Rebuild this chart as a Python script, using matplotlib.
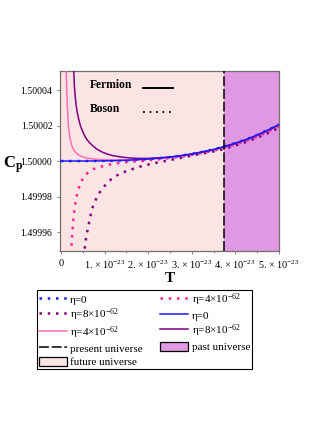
import matplotlib
matplotlib.use("Agg")
import matplotlib.pyplot as plt
from matplotlib.lines import Line2D
from matplotlib.patches import Patch, Rectangle
from matplotlib.legend_handler import HandlerPatch
from matplotlib.ticker import FixedLocator, MultipleLocator
import numpy as np

plt.rcParams['font.family'] = ['Liberation Serif', 'DejaVu Serif']
plt.rcParams['mathtext.fontset'] = 'custom'
plt.rcParams['mathtext.rm'] = 'Liberation Serif'
plt.rcParams['mathtext.it'] = 'Liberation Serif:italic'
plt.rcParams['mathtext.bf'] = 'Liberation Serif:bold'

# ---- data: T in units of 1e-23, Cp given as (Cp - 1.5) in units of 1e-5 ----
T_SCALE = 1e-23
CP_BASE = 1.5
CP_SCALE = 1e-5

# Fermion, eta = 0
T_f0 = [0, 0.25, 0.5, 0.75, 1.0, 1.25, 1.5, 1.75, 2.0, 2.25, 2.5, 2.75, 3.0,
        3.25, 3.5, 3.75, 4.0, 4.25, 4.5, 4.75, 5.0]
dCp_f0 = [0, 0.0, 0.002, 0.005, 0.011, 0.024, 0.045, 0.075, 0.11, 0.16, 0.22,
          0.30, 0.40, 0.52, 0.655, 0.82, 1.01, 1.22, 1.47, 1.75, 2.06]

# Boson, eta = 0
T_b0 = list(T_f0)
dCp_b0 = list(dCp_f0)

# Fermion, eta = 4e-62
T_f4 = [0.115, 0.122, 0.133, 0.144, 0.16, 0.177, 0.20, 0.222, 0.26, 0.314, 0.38,
        0.466, 0.58, 0.695, 0.85, 1.0, 1.25, 1.5, 1.75, 2.0, 2.25, 2.5, 2.75,
        3.0, 3.25, 3.5, 3.75, 4.0, 4.25, 4.5, 4.75, 5.0]
dCp_f4 = [6.0, 5.24, 4.2, 3.36, 2.5, 1.86, 1.42, 1.11, 0.80, 0.55, 0.39,
          0.26, 0.18, 0.13, 0.09, 0.07, 0.06, 0.07, 0.09, 0.12, 0.16, 0.21, 0.29,
          0.39, 0.51, 0.64, 0.80, 0.99, 1.20, 1.45, 1.73, 2.04]

# Fermion, eta = 8e-62
T_f8 = [0.285, 0.291, 0.31, 0.33, 0.35, 0.375, 0.40, 0.44, 0.48, 0.53, 0.58,
        0.64, 0.70, 0.82, 0.95, 1.08, 1.2, 1.4, 1.6, 1.8, 2.0, 2.25, 2.5, 2.75,
        3.0, 3.25, 3.5, 3.75, 4.0, 4.25, 4.5, 4.75, 5.0]
dCp_f8 = [6.0, 5.3, 4.2, 3.6, 3.15, 2.75, 2.45, 2.05, 1.78, 1.5, 1.27,
          1.08, 0.93, 0.68, 0.50, 0.38, 0.30, 0.22, 0.17, 0.15, 0.15, 0.18, 0.23, 0.30,
          0.39, 0.51, 0.64, 0.80, 0.99, 1.20, 1.45, 1.73, 2.04]

# Boson, eta = 4e-62
T_b4 = [0.225, 0.236, 0.246, 0.257, 0.270, 0.285, 0.303, 0.33, 0.362, 0.405,
        0.466, 0.573, 0.727, 0.911, 1.078, 1.268, 1.461, 1.65, 1.85, 2.0, 2.25,
        2.5, 2.75, 3.0, 3.25, 3.5, 3.75, 4.0, 4.25, 4.5, 4.75, 5.0]
dCp_b4 = [-5.7, -5.16, -4.7, -4.26, -3.8, -3.32, -2.87, -2.42, -1.97, -1.56,
          -1.14, -0.75, -0.47, -0.32, -0.21, -0.13, -0.07, -0.03, 0.0, 0.04, 0.10,
          0.17, 0.25, 0.35, 0.46, 0.59, 0.75, 0.93, 1.14, 1.38, 1.66, 1.97]

# Boson, eta = 8e-62
T_b8 = [0.53, 0.544, 0.567, 0.596, 0.635, 0.672, 0.711, 0.773, 0.849, 0.963,
        1.078, 1.232, 1.399, 1.576, 1.750, 1.927, 2.117, 2.310, 2.50, 2.69, 2.88,
        3.07, 3.26, 3.46, 3.65, 3.85, 4.0, 4.25, 4.5, 4.75, 5.0]
dCp_b8 = [-5.4, -4.97, -4.51, -4.07, -3.61, -3.17, -2.72, -2.33, -1.90, -1.52,
          -1.18, -0.88, -0.66, -0.51, -0.355, -0.24, -0.13, -0.04, 0.056, 0.15, 0.24,
          0.34, 0.43, 0.52, 0.62, 0.76, 0.88, 1.08, 1.32, 1.58, 1.88]

present_T = 3.75   # present universe boundary (units of 1e-23)
T_max = 5.0

x_ticks = [0, 1, 2, 3, 4, 5]
x_tick_labels = ['0'] + [f'{k}. × 10$^{{-23}}$' for k in range(1, 6)]
y_ticks_d = [-4, -2, 0, 2, 4]
y_tick_labels = ['1.49996', '1.49998', '1.50000', '1.50002', '1.50004']

# ---- colours / styles ----
C_BLUE = '#1a1aff'
C_PINK_S = '#ff6eb4'
C_PINK_D = '#ff1f8f'
C_PURPLE = '#800080'
C_FUTURE = '#fbe4e4'
C_PAST = '#e198e3'
DOT = (0, (1.0, 2.3))
DASH = (0, (6.5, 1.8))


def tx(t):
    return np.asarray(t) * T_SCALE


def cy(d):
    return CP_BASE + np.asarray(d) * CP_SCALE


fig = plt.figure(figsize=(3.24, 4.40), dpi=100)
fig.patch.set_facecolor('white')
ax = fig.add_axes([0.1852, 0.4295, 0.6759, 0.4098])
ax.set_facecolor(C_FUTURE)

ax.axvspan(present_T * T_SCALE, T_max * T_SCALE, color=C_PAST, lw=0, zorder=0)
ax.axvline(present_T * T_SCALE, color='black', lw=1.1, linestyle=DASH, zorder=5)

dot_kw = dict(lw=1.8, linestyle=DOT, dash_capstyle='butt', zorder=3)
ax.plot(tx(T_b8), cy(dCp_b8), color=C_PURPLE, **dot_kw)
ax.plot(tx(T_b4), cy(dCp_b4), color=C_PINK_D, **dot_kw)
ax.plot(tx(T_b0), cy(dCp_b0), color=C_BLUE, **dot_kw)

sol_kw = dict(lw=1.1, linestyle='-', zorder=4)
ax.plot(tx(T_f4), cy(dCp_f4), color=C_PINK_S, **sol_kw)
ax.plot(tx(T_f8), cy(dCp_f8), color=C_PURPLE, **sol_kw)
ax.plot(tx(T_f0), cy(dCp_f0), color=C_BLUE, **sol_kw)

ax.set_xlim(-0.02 * T_SCALE, T_max * T_SCALE)
ax.set_ylim(cy(-5.07), cy(5.09))

ax.xaxis.set_major_locator(FixedLocator(tx(x_ticks)))
ax.set_xticklabels(x_tick_labels, fontsize=7.4)
ax.xaxis.set_minor_locator(MultipleLocator(0.5 * T_SCALE))
ax.yaxis.set_major_locator(FixedLocator(cy(y_ticks_d)))
ax.set_yticklabels(y_tick_labels, fontsize=7)

for sp in ax.spines.values():
    sp.set_color('#707070')
    sp.set_linewidth(0.9)
ax.tick_params(axis='both', which='both', direction='out', color='#707070',
               width=0.6)
ax.tick_params(axis='x', which='major', length=2.5, pad=3)
ax.tick_params(axis='x', which='minor', length=1.5)
ax.tick_params(axis='y', which='major', length=2.5, pad=3)

ax.set_xlabel('T', fontsize=11, fontweight='bold', labelpad=1)
fig.text(0.040, 0.625, r'$\mathbf{C}_{\mathbf{p}}$', fontsize=12, ha='center', va='center')

# Fermion / Boson key inside axes
ax.text(0.134, 0.921, 'Fermion', transform=ax.transAxes, fontsize=8.3,
        fontweight='bold', va='center', ha='left')
ax.plot([0.378, 0.515], [0.904, 0.904], transform=ax.transAxes, color='black',
        lw=1.4, zorder=6)
ax.text(0.134, 0.789, 'Boson', transform=ax.transAxes, fontsize=8.3,
        fontweight='bold', va='center', ha='left')
ax.plot([0.378, 0.515], [0.771, 0.771], transform=ax.transAxes, color='black',
        lw=1.3, linestyle=(0, (1, 2.6)), zorder=6)


# ---- legend ----
def small_rect(legend, orig_handle, xdescent, ydescent, width, height, fontsize):
    h = height * 0.72
    return Rectangle((-xdescent, -ydescent + (height - h) / 2), width, h)


handles = [
    Line2D([], [], color=C_BLUE, lw=1.8, linestyle=DOT, dash_capstyle='butt'),
    Line2D([], [], color=C_PURPLE, lw=1.8, linestyle=DOT, dash_capstyle='butt'),
    Line2D([], [], color=C_PINK_S, lw=1.1),
    Line2D([], [], color='black', lw=1.1, linestyle=DASH),
    Patch(facecolor=C_FUTURE, edgecolor='black', lw=0.9),
    Line2D([], [], color=C_PINK_D, lw=1.8, linestyle=DOT, dash_capstyle='butt'),
    Line2D([], [], color=C_BLUE, lw=1.1),
    Line2D([], [], color=C_PURPLE, lw=1.1),
    Patch(facecolor=C_PAST, edgecolor='black', lw=0.9),
]
labels = [
    'η=0',
    'η=8×10$^{-62}$',
    'η=4×10$^{-62}$',
    'present universe',
    'future universe',
    'η=4×10$^{-62}$',
    'η=0',
    'η=8×10$^{-62}$',
    'past universe',
]
leg = fig.legend(handles, labels, ncol=2, loc='upper left',
                 bbox_to_anchor=(0.115, 0.3409), borderaxespad=0,
                 fontsize=8, handlelength=2.5, handleheight=1.35,
                 handletextpad=0.3, columnspacing=1.6, labelspacing=0.08,
                 borderpad=0.15, frameon=True, fancybox=False,
                 handler_map={Patch: HandlerPatch(patch_func=small_rect)})
leg.get_frame().set_edgecolor('black')
leg.get_frame().set_linewidth(0.8)
leg.get_frame().set_alpha(1)

fig.savefig('out.png', dpi=100, facecolor='white')
